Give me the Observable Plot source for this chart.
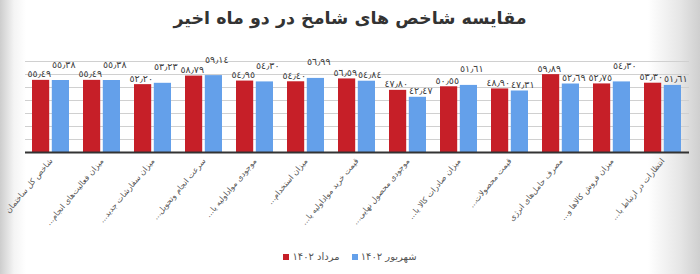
<!DOCTYPE html>
<html>
<head>
<meta charset="utf-8">
<script src="https://cdn.jsdelivr.net/npm/d3@7"></script>
<script src="https://cdn.jsdelivr.net/npm/@observablehq/plot@0.6"></script>
<style>
  html, body { margin: 0; padding: 0; }
  body {
    width: 700px; height: 274px; position: relative; overflow: hidden;
    background: linear-gradient(to right, #cdcdcd 0px, #f4f4f4 14px, #ffffff 26px, #ffffff 648px, #e6e6e6 680px, #cfcfcf 700px);
    font-family: "DejaVu Sans", sans-serif;
  }
  #title {
    position: absolute; left: 0; top: 4px; width: 700px; text-align: center;
    font-size: 17.5px; font-weight: bold; color: #333; line-height: 28px;
  }
  #chart { position: absolute; left: 0; top: 38px; }
  #chart svg { overflow: visible; }
  #legend {
    position: absolute; left: 0; top: 251px; width: 700px;
    display: flex; justify-content: center; gap: 12px;
    font-size: 10px; color: #555;
  }
  #legend .item { display: flex; align-items: center; gap: 3px; }
  #legend .sw { width: 6px; height: 6px; display: inline-block; }
</style>
</head>
<body>
<div id="title">مقایسه شاخص های شامخ در دو ماه اخیر</div>
<div id="chart"></div>
<div id="legend"></div>
<script>
const categories = [
  "شاخص کل ساختمان",
  "میزان فعالیت‌های انجام...\u200F",
  "میزان سفارشات جدید...\u200F",
  "سرعت انجام وتحویل...\u200F",
  "موجودی مواداولیه یا...\u200F",
  "میزان استخدام...\u200F",
  "قیمت خرید مواداولیه یا...\u200F",
  "موجودی محصول نهایی...\u200F",
  "میزان صادرات کالا یا...\u200F",
  "قیمت محصولات...\u200F",
  "مصرف حامل‌های انرژی",
  "میزان فروش کالاها و...\u200F",
  "انتظارات در ارتباط با...\u200F"
];
const seriesNames = ["مرداد ۱۴۰۲", "شهریور ۱۴۰۲"];
const mordad    = [55.49, 55.49, 52.20, 58.79, 54.95, 54.40, 56.59, 47.80, 50.55, 48.90, 59.89, 52.75, 53.30];
const shahrivar = [55.38, 55.38, 53.23, 59.14, 54.30, 56.99, 54.84, 42.47, 51.61, 47.31, 52.69, 54.30, 51.61];
const yTicks = [0, 10, 20, 30, 40, 50, 60, 70];
const colors = ["#C61F28", "#64A0EA"];

const redRows = categories.map((c, i) => ({cat: c, series: seriesNames[0], value: mordad[i]}));
const blueRows = categories.map((c, i) => ({cat: c, series: seriesNames[1], value: shahrivar[i], raised: shahrivar[i] - mordad[i] > -1}));
const digits = "٠١٢٣٤٥٦٧٨٩";
const fmt = d => d.value.toFixed(2).replace(".", "٫").replace(/\d/g, x => digits[+x]);
const labelStyle = {x: "cat", y: "value", text: fmt, lineAnchor: "bottom", fill: "#404040", fontSize: 9.5};

const chart = Plot.plot({
  width: 700, height: 207,
  marginTop: 23, marginBottom: 93, marginLeft: 25, marginRight: 11,
  style: {fontFamily: "DejaVu Sans", fontSize: "8px", color: "#555", background: "transparent"},
  x: {domain: categories, paddingInner: 0.266, paddingOuter: 0.133, label: null, tickRotate: -50, tickSize: 0, tickPadding: 7},
  y: {domain: [0, 70], axis: null},
  color: {domain: seriesNames, range: colors},
  marks: [
    Plot.ruleY(yTicks, {stroke: "#d0d0d0"}),
    Plot.barY(redRows, {x: "cat", y: "value", fill: "series", insetRight: 19.8}),
    Plot.barY(blueRows, {x: "cat", y: "value", fill: "series", insetLeft: 19.8}),
    Plot.ruleY([0], {stroke: "#333", strokeWidth: 2}),
    Plot.text(redRows, {...labelStyle, textAnchor: "end", dx: 0, dy: -3}),
    Plot.text(blueRows.filter(d => !d.raised), {...labelStyle, textAnchor: "start", dx: 1, dy: -3}),
    Plot.text(blueRows.filter(d => d.raised), {...labelStyle, textAnchor: "start", dx: 1, dy: -13})
  ]
});
document.getElementById("chart").appendChild(chart);

const legend = document.getElementById("legend");
seriesNames.forEach((s, i) => {
  const item = document.createElement("span");
  item.className = "item";
  const sw = document.createElement("span");
  sw.className = "sw";
  sw.style.background = colors[i];
  const t = document.createElement("span");
  t.textContent = s;
  item.appendChild(sw);
  item.appendChild(t);
  legend.appendChild(item);
});
</script>
</body>
</html>
